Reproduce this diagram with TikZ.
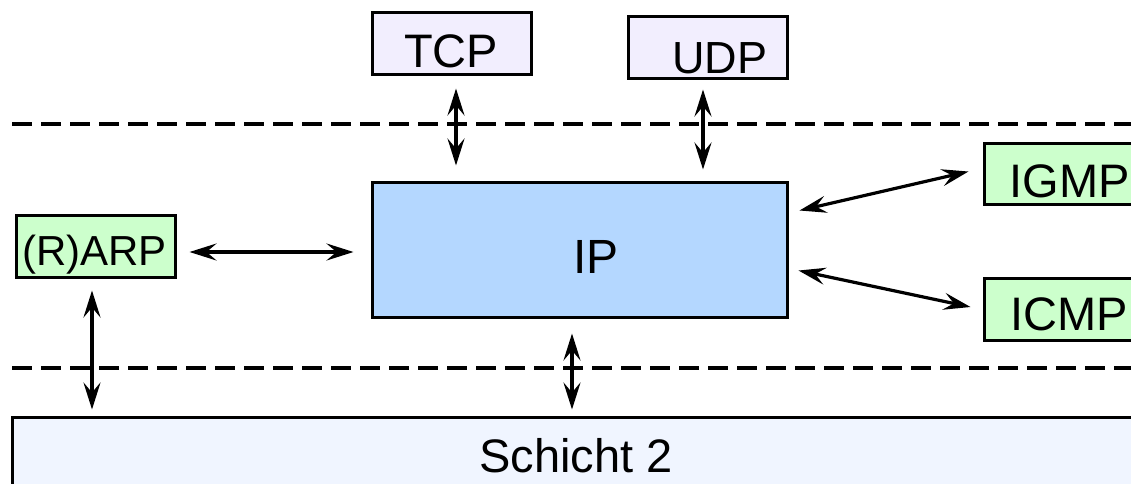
\documentclass[tikz,border=0pt]{standalone}
\usepackage{fontspec}
\setmainfont{Liberation Sans}
\usetikzlibrary{arrows.meta}
\definecolor{lav}{RGB}{242,238,254}
\definecolor{ipblue}{RGB}{180,215,255}
\definecolor{lgreen}{RGB}{204,255,204}
\definecolor{pale}{RGB}{240,245,255}
\tikzset{
  box/.style={draw=black, line width=3pt, rectangle, inner sep=0pt},
  lbl/.style={anchor=base, inner sep=0pt, font=\fontsize{47}{50}\selectfont},
  tip/.style={Stealth[length=27pt,width=17pt,inset=10pt]},
  dbl/.style={line width=3.2pt, {Stealth[length=27pt,width=17pt,inset=10pt]}-{Stealth[length=27pt,width=17pt,inset=10pt]}},
  sep/.style={line width=3.2pt, dash pattern=on 20pt off 9pt}
}
\begin{document}
\begin{tikzpicture}[x=1pt,y=-1pt]
\useasboundingbox (0,0) rectangle (1131,483);
\clip (0,0) rectangle (1131,483);
% separators
\coordinate (s1a) at (12,124);
\coordinate (s1b) at (1140,124);
\coordinate (s2a) at (12,368);
\coordinate (s2b) at (1140,368);
\draw[sep] (s1a) -- (s1b);
\draw[sep] (s2a) -- (s2b);
% boxes
\node[box, fill=lav, minimum width=159pt, minimum height=62pt] (tcp) at (451.5,43) {};
\node[box, fill=lav, minimum width=159pt, minimum height=62pt] (udp) at (707.5,47) {};
\node[box, fill=ipblue, minimum width=415pt, minimum height=135pt] (ip) at (579.5,249.5) {};
\node[box, fill=lgreen, minimum width=176pt, minimum height=61pt] (igmp) at (1072,173.5) {};
\node[box, fill=lgreen, minimum width=176pt, minimum height=62pt] (icmp) at (1072,309) {};
\node[box, fill=lgreen, minimum width=159pt, minimum height=62pt] (arp) at (95.5,246) {};
\node[box, fill=pale, minimum width=1148pt, minimum height=102pt] (l2) at (586,468) {};
% labels
\node[lbl] (tcpt) at (451,67) {TCP};
\node[lbl, font=\fontsize{45}{48}\selectfont] (udpt) at (720,73) {UDP};
\node[lbl, font=\fontsize{48}{50}\selectfont] (ipt) at (596,273) {IP};
\node[lbl] (igmpt) at (1069.5,197) {IGMP};
\node[lbl] (icmpt) at (1069.5,330) {ICMP};
\node[lbl, font=\fontsize{42}{45}\selectfont] (arpt) at (94.5,265) {(R)ARP};
\node[lbl] (l2t) at (576,472) {Schicht 2};
% x positions for vertical connectors
\coordinate (xa) at (456,0);
\coordinate (xb) at (703,0);
\coordinate (xc) at (572,0);
\coordinate (xd) at (92,0);
% connectors
\draw[dbl, shorten <=13pt, shorten >=15pt] (tcp.south -| xa) -- (ip.north -| xa);
\draw[dbl, shorten <=10pt, shorten >=11pt] (udp.south -| xb) -- (ip.north -| xb);
\draw[dbl, shorten <=15pt, shorten >=6pt] (ip.south -| xc) -- (l2.north -| xc);
\draw[dbl, shorten <=12pt, shorten >=6pt] (arp.south -| xd) -- (l2.north -| xd);
\draw[dbl] ([xshift=13pt,yshift=-6pt]arp.east) -- ([xshift=-17pt,yshift=-2.5pt]ip.west);
\draw[dbl] ([xshift=11pt,yshift=39pt]ip.east) -- ([xshift=-14pt,yshift=2pt]igmp.west);
\draw[dbl] ([xshift=10pt,yshift=-21pt]ip.east) -- ([xshift=-12pt,yshift=2pt]icmp.west);
\end{tikzpicture}
\end{document}
